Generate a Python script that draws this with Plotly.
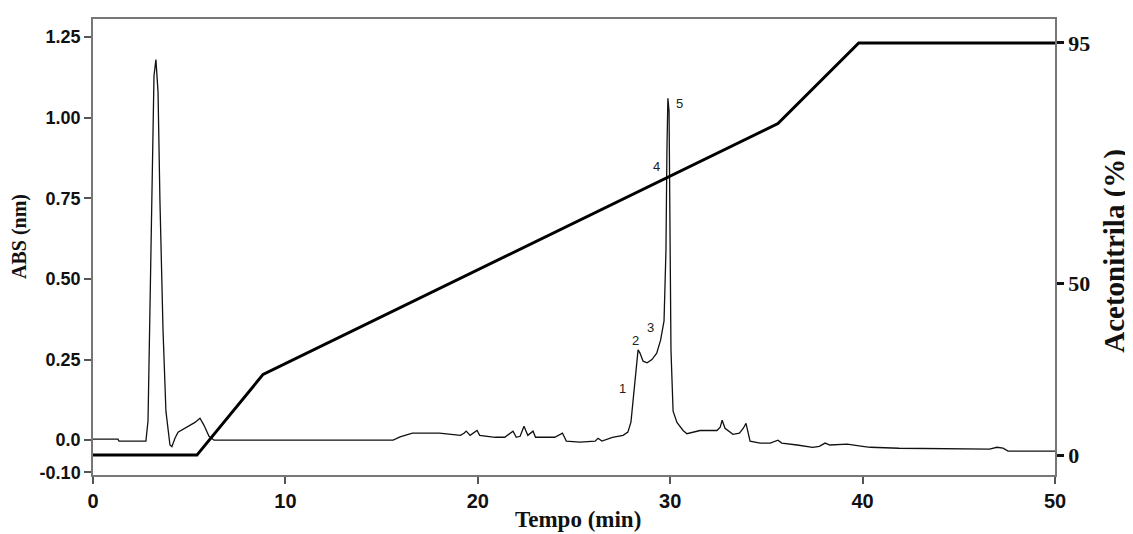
import plotly.graph_objects as go

# chromatogram (absorbance vs time)
tempo = [0, 1.3, 1.35, 2.75, 2.86, 2.96, 3.07, 3.17, 3.27, 3.38, 3.48, 3.64, 3.79, 4.0, 4.1,
         4.26, 4.42, 4.78, 5.3, 5.56, 5.77, 6.03, 6.29, 10.76, 15.6, 15.96, 16.6, 18.0, 19.1,
         19.3, 19.4, 19.6, 19.96, 20.1, 20.9, 21.4, 21.83, 22.0, 22.2, 22.4, 22.6, 22.87, 23.0,
         24.0, 24.4, 24.6, 25.3, 26.1, 26.25, 26.45, 27.0, 27.55, 27.8, 27.96, 28.07, 28.22,
         28.33, 28.43, 28.59, 28.8, 29.05, 29.3, 29.5, 29.68, 29.78, 29.83, 29.88, 29.94, 30.0,
         30.04, 30.15, 30.35, 30.67, 30.87, 31.55, 32.43, 32.6, 32.7, 32.85, 33.26, 33.6, 33.8,
         33.94, 34.04, 34.15, 34.67, 35.2, 35.6, 35.8, 36.6, 37.4, 37.75, 38.05, 38.3, 39.2,
         40.0, 40.4, 41.9, 44.7, 46.6, 46.98, 47.3, 47.56, 50.0]
absorb = [0.003, 0.003, -0.003, -0.003, 0.06, 0.43, 0.90, 1.13, 1.18, 1.08, 0.74, 0.34, 0.09,
          -0.015, -0.02, 0.006, 0.025, 0.037, 0.055, 0.068, 0.046, 0.012, 0.0, 0.0, 0.0, 0.01,
          0.022, 0.022, 0.015, 0.022, 0.028, 0.015, 0.03, 0.015, 0.009, 0.009, 0.028, 0.009,
          0.012, 0.043, 0.015, 0.028, 0.009, 0.009, 0.022, -0.003, -0.006, -0.003, 0.006, -0.003,
          0.009, 0.015, 0.025, 0.056, 0.12, 0.22, 0.28, 0.27, 0.245, 0.24, 0.25, 0.27, 0.31, 0.37,
          0.59, 0.90, 1.06, 1.02, 0.59, 0.28, 0.09, 0.055, 0.03, 0.02, 0.03, 0.03, 0.04, 0.062,
          0.037, 0.018, 0.022, 0.037, 0.052, 0.025, -0.003, -0.009, -0.009, 0.0, -0.009, -0.015,
          -0.022, -0.019, -0.009, -0.015, -0.012, -0.019, -0.022, -0.025, -0.028, -0.028, -0.022,
          -0.025, -0.034, -0.034]

# acetonitrile gradient
grad_tempo = [0, 5.4, 8.84, 35.6, 39.8, 50]
grad_acn = [0, 0, 18.6, 76.4, 95, 95]

# peak labels
peak_ids = ["1", "2", "3", "4", "5"]
peak_t = [27.5, 28.2, 29.0, 29.3, 30.5]
peak_abs = [0.160, 0.310, 0.350, 0.850, 1.045]

abs_ticks = [-0.10, 0.0, 0.25, 0.50, 0.75, 1.00, 1.25]
abs_ticklabels = ["-0.10", "0.0", "0.25", "0.50", "0.75", "1.00", "1.25"]
acn_ticks = [0, 39.5, 95]
acn_ticklabels = ["0", "50", "95"]

fig = go.Figure()
fig.add_trace(go.Scatter(x=tempo, y=absorb, mode="lines",
                         line=dict(color="#111111", width=1.3), showlegend=False))
fig.add_trace(go.Scatter(x=grad_tempo, y=grad_acn, mode="lines", yaxis="y2",
                         line=dict(color="#000000", width=3), showlegend=False))

for lab, t, a in zip(peak_ids, peak_t, peak_abs):
    fig.add_annotation(x=t, y=a, text=lab, showarrow=False,
                       font=dict(family="Liberation Sans", size=13, color="#222222"))

serif_bold = dict(family="Liberation Serif", size=20, color="#111111", weight="bold")

# page body has an 8px margin, so the figure is shrunk by that much
fig.update_layout(
    width=1125, height=526,
    margin=dict(l=85, r=78, t=9, b=59),
    plot_bgcolor="white", paper_bgcolor="white",
    xaxis=dict(range=[0, 50], tickvals=[0, 10, 20, 30, 40, 50], showgrid=False, zeroline=False,
               showline=True, linecolor="#777777", linewidth=1.5, mirror=True,
               ticks="outside", ticklen=7, tickcolor="#555555", tickwidth=1.5,
               tickfont=dict(family="Liberation Sans", size=20, color="#111111", weight="bold")),
    yaxis=dict(range=[-0.108, 1.306], tickvals=abs_ticks, ticktext=abs_ticklabels,
               showgrid=False, zeroline=False, showline=True, linecolor="#777777",
               linewidth=1.5, ticks="outside", ticklen=7, tickcolor="#555555", tickwidth=1.5,
               tickfont=dict(family="Liberation Sans", size=18, color="#111111", weight="bold")),
    yaxis2=dict(range=[-4.59, 100.51], tickvals=acn_ticks, ticktext=acn_ticklabels,
                overlaying="y", side="right", showgrid=False, zeroline=False,
                showline=True, linecolor="#777777", linewidth=1.5,
                ticks="outside", ticklen=7, tickcolor="#111111", tickwidth=2.5,
                tickfont=dict(family="Liberation Serif", size=22, color="#111111", weight="bold")),
    annotations=list(fig.layout.annotations) + [
        dict(text="ABS (nm)", xref="paper", yref="paper", x=-0.077, y=0.524,
             xanchor="center", yanchor="middle",
             textangle=-90, showarrow=False, font=serif_bold),
        dict(text="Acetonitrila (%)", xref="paper", yref="paper", x=1.061, y=0.491,
             xanchor="center", yanchor="middle",
             textangle=-90, showarrow=False,
             font=dict(family="Liberation Serif", size=29, color="#111111", weight="bold")),
        dict(text="Tempo (min)", xref="paper", yref="paper", x=0.504, y=-0.098,
             xanchor="center", yanchor="middle", showarrow=False,
             font=dict(family="Liberation Serif", size=23, color="#111111", weight="bold")),
    ],
)

fig.write_html("out.html")
